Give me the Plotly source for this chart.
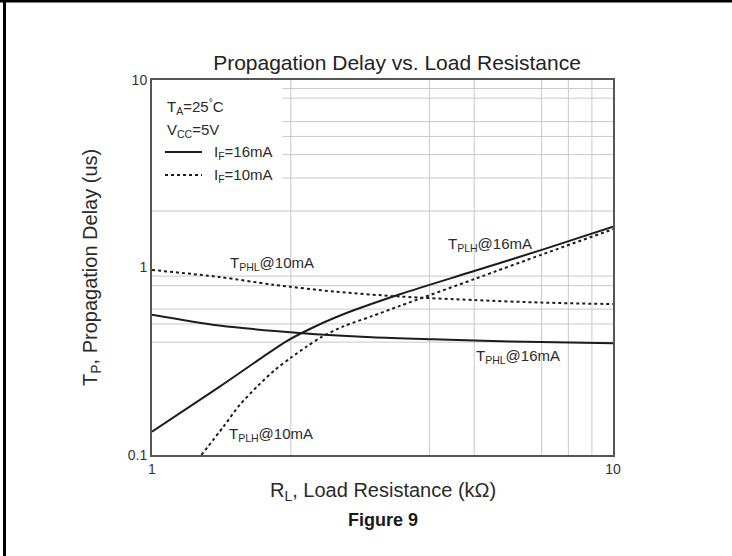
import plotly.graph_objects as go

# --- data (RL in kOhm, delay in us) ---
rl_phl16 = [1, 1.4, 2.09, 3.0, 4.07, 6.0, 10]
tphl_16 = [0.56, 0.49, 0.448, 0.425, 0.414, 0.403, 0.394]

rl_plh16 = [1, 1.4, 1.96, 2.2, 2.56, 3.45, 5.02, 7.06, 10]
tplh_16 = [0.133, 0.231, 0.405, 0.47, 0.555, 0.72, 0.96, 1.25, 1.65]

rl_phl10 = [1, 1.4, 1.83, 2.5, 3.45, 5.0, 7.0, 10]
tphl_10 = [0.97, 0.89, 0.81, 0.743, 0.70, 0.67, 0.65, 0.638]

rl_plh10 = [1.28, 1.43, 1.55, 1.7, 1.85, 2.0, 2.17, 2.33, 2.6, 3.0, 3.45, 5.02, 7.06, 10]
tplh_10 = [0.1, 0.142, 0.185, 0.235, 0.285, 0.33, 0.38, 0.425, 0.485, 0.55, 0.624, 0.87, 1.18, 1.60]

# grid lines as they appear on the scanned sheet
grid_x = [2, 4, 5, 7, 8, 9]
grid_y_full = [0.4, 0.5, 0.6, 0.8, 0.9, 2]
grid_y_part = [3, 4, 5, 6, 8, 9]

x_ticks = [1, 10]
x_ticktext = ["1", "10"]
y_ticks = [0.1, 1, 10]
y_ticktext = ["0.1", "1", "10"]

FONT = "Liberation Sans, Arial, sans-serif"
INK = "#1c1c1c"
GRID = "#c8c8c8"

fig = go.Figure()

# grid
gx, gy = [], []
for v in grid_x:
    gx += [v, v, None]
    gy += [0.1, 10, None]
for v in grid_y_full:
    gx += [1, 10, None]
    gy += [v, v, None]
for v in grid_y_part:
    gx += [1.92, 10, None]
    gy += [v, v, None]
fig.add_trace(go.Scatter(x=gx, y=gy, mode="lines", line=dict(color=GRID, width=1),
                         hoverinfo="skip", showlegend=False))

solid = dict(color=INK, width=2, shape="spline", smoothing=0.8)
dotted = dict(color=INK, width=2, dash="3px,3px", shape="spline", smoothing=0.8)

fig.add_trace(go.Scatter(x=rl_phl16, y=tphl_16, mode="lines", line=solid, name="TPHL@16mA"))
fig.add_trace(go.Scatter(x=rl_plh16, y=tplh_16, mode="lines", line=solid, name="TPLH@16mA"))
fig.add_trace(go.Scatter(x=rl_phl10, y=tphl_10, mode="lines", line=dotted, name="TPHL@10mA"))
fig.add_trace(go.Scatter(x=rl_plh10, y=tplh_10, mode="lines", line=dotted, name="TPLH@10mA"))

# plot area spans 152..613 px horizontally, 80..455 px vertically
def px(x):
    return (x - 152) / 461


def py(y):
    return (455 - y) / 375


notes = [
    ("T<sub>A</sub>=25<sup>°</sup>C", 165, 107),
    ("V<sub>CC</sub>=5V", 165, 130),
    ("I<sub>F</sub>=16mA", 212, 152),
    ("I<sub>F</sub>=10mA", 212, 175),
    ("T<sub>PHL</sub>@10mA", 228, 263),
    ("T<sub>PLH</sub>@16mA", 446, 244),
    ("T<sub>PHL</sub>@16mA", 474, 356),
    ("T<sub>PLH</sub>@10mA", 227, 434),
]
annotations = [
    dict(text=t, x=px(x), y=py(y), xref="paper", yref="paper", xanchor="left",
         yanchor="middle", showarrow=False, font=dict(size=15, color="#2a2a2a", family=FONT))
    for t, x, y in notes
]
annotations += [
    dict(text="R<sub>L</sub>, Load Resistance (kΩ)", x=px(383), y=py(491), xref="paper",
         yref="paper", xanchor="center", yanchor="middle", showarrow=False,
         font=dict(size=20, color="#2a2a2a", family=FONT)),
    dict(text="<b>Figure 9</b>", x=px(383), y=py(520), xref="paper", yref="paper",
         xanchor="center", yanchor="middle", showarrow=False,
         font=dict(size=18, color="#1a1a1a", family=FONT)),
    dict(text="T<sub>P</sub>, Propagation Delay (us)", x=px(91), y=py(268), xref="paper",
         yref="paper", xanchor="center", yanchor="middle", textangle=-90, showarrow=False,
         font=dict(size=20, color="#2a2a2a", family=FONT)),
]

shapes = [
    # legend samples
    dict(type="line", xref="paper", yref="paper", x0=px(165), x1=px(202), y0=py(152), y1=py(152),
         line=dict(color=INK, width=2)),
    dict(type="line", xref="paper", yref="paper", x0=px(165), x1=px(202), y0=py(175), y1=py(175),
         line=dict(color=INK, width=2, dash="3px,3px")),
    # page frame (top and left edge of the scan)
    dict(type="line", xref="paper", yref="paper", x0=px(0), x1=px(732), y0=py(1), y1=py(1),
         line=dict(color="black", width=3)),
    dict(type="line", xref="paper", yref="paper", x0=px(4.5), x1=px(4.5), y0=py(0), y1=py(556),
         line=dict(color="black", width=3)),
]

fig.update_layout(
    width=732,
    height=556,
    margin=dict(l=152, r=119, t=80, b=101),
    paper_bgcolor="white",
    plot_bgcolor="white",
    title=dict(text="Propagation Delay vs. Load Resistance", x=397 / 732, xanchor="center",
               y=1 - 63 / 556, yanchor="middle", font=dict(size=21, color="#222", family=FONT)),
    annotations=annotations,
    shapes=shapes,
    showlegend=False,
)
fig.update_xaxes(type="log", range=[0, 1], tickvals=x_ticks, ticktext=x_ticktext,
                 showgrid=False, zeroline=False, showline=True, mirror=True,
                 linecolor="#555", linewidth=2, ticks="",
                 tickfont=dict(size=14, color="#333", family=FONT))
fig.update_yaxes(type="log", range=[-1, 1], tickvals=y_ticks, ticktext=y_ticktext,
                 showgrid=False, zeroline=False, showline=True, mirror=True,
                 linecolor="#555", linewidth=2, ticks="",
                 tickfont=dict(size=14, color="#333", family=FONT))

# drop the page's default body margin so the figure sits at the window corner
fig.write_html("out.html", config={"displayModeBar": False},
               post_script="document.body.style.margin='0';")
